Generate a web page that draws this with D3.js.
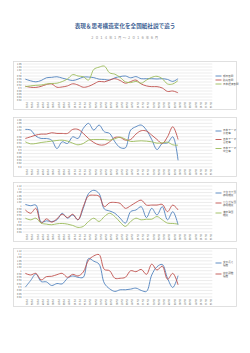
<!DOCTYPE html>
<html>
<head>
<meta charset="utf-8">
<script src="https://cdn.jsdelivr.net/npm/d3@7"></script>
<style>
  body { margin: 0; background: #fff; }
  svg { display: block; }
</style>
</head>
<body>
<svg id="chart"></svg>
<script>
// x categories (Jan 2014 - Dec 2016), data covers the first 30
const months = [
  "14/01","14/02","14/03","14/04","14/05","14/06","14/07","14/08","14/09","14/10","14/11","14/12",
  "15/01","15/02","15/03","15/04","15/05","15/06","15/07","15/08","15/09","15/10","15/11","15/12",
  "16/01","16/02","16/03","16/04","16/05","16/06","16/07","16/08","16/09","16/10","16/11","16/12"
];

// panel 1
const asahi   = [0.959,0.948,0.941,0.950,0.968,0.971,0.975,0.966,0.957,0.950,0.959,0.973,0.973,0.969,0.959,0.957,0.953,0.968,0.976,0.980,0.968,0.976,0.962,0.962,0.962,0.960,0.962,0.957,0.944,0.962];
const yomiuri = [0.912,0.905,0.904,0.911,0.923,0.927,0.905,0.907,0.914,0.928,0.920,0.905,0.911,0.927,0.944,0.941,0.953,0.962,0.950,0.932,0.943,0.953,0.927,0.914,0.909,0.909,0.900,0.877,0.880,0.868];
const nikkei  = [0.909,0.914,0.918,0.920,0.927,0.930,0.932,0.943,0.960,0.989,0.980,0.975,0.953,1.024,1.039,1.046,1.001,0.992,0.971,0.941,0.936,0.944,0.932,0.953,0.971,0.978,0.962,0.927,0.927,0.950];

// panel 2
const themePos = [1.024,1.020,0.984,0.970,0.970,0.960,0.910,0.950,0.940,0.980,0.970,1.030,1.060,1.020,1.050,1.010,1.000,0.950,0.916,0.914,1.020,1.040,1.050,1.020,0.964,0.904,0.940,0.944,0.980,0.840];
const themeNeg = [0.970,0.980,0.990,0.996,0.996,1.004,1.000,1.000,1.000,1.024,1.024,1.000,0.970,0.946,0.932,0.932,0.950,0.976,0.976,0.960,0.964,0.996,1.016,1.014,0.990,0.964,0.940,0.980,1.040,0.964];
const themeNeu = [0.950,0.938,0.940,0.946,0.950,0.954,0.958,0.960,0.954,0.942,0.932,0.940,0.960,0.964,0.964,0.964,0.960,0.968,0.978,0.966,0.952,0.954,0.956,0.954,0.950,0.942,0.944,0.948,0.932,0.930];

// panel 3
const kataFreq  = [1.008,1.000,1.004,0.900,0.908,0.904,0.914,0.954,0.924,0.944,0.914,0.984,1.074,1.094,1.074,0.980,0.968,0.954,0.924,0.894,0.964,0.974,0.994,0.928,0.984,0.944,0.994,0.914,0.964,0.884];
const hiraFreq  = [0.974,0.954,0.984,0.894,0.920,0.900,0.920,0.948,0.928,0.948,0.914,0.994,1.060,1.064,1.058,0.994,1.018,1.020,1.014,0.984,1.000,1.020,1.034,1.004,1.004,1.004,1.008,0.964,1.004,0.974];
const kanjiFreq = [0.924,0.914,0.924,0.894,0.888,0.884,0.890,0.892,0.888,0.880,0.868,0.874,0.904,0.924,0.904,0.934,0.954,0.934,0.900,0.874,0.904,0.924,0.914,0.918,0.918,0.934,0.914,0.894,0.892,0.888];

// panel 4
const sentLen  = [0.900,0.940,0.980,0.934,0.932,0.910,0.922,0.920,0.954,0.968,0.960,0.960,1.074,1.058,1.040,0.924,0.890,0.874,0.884,0.884,0.888,0.894,0.880,0.874,0.974,1.024,1.038,0.954,0.898,0.970];
const conjRate = [0.984,0.974,0.984,0.944,0.964,0.966,0.976,0.984,0.960,0.978,0.968,0.992,1.064,1.090,1.098,1.008,1.000,0.954,0.954,0.960,1.000,0.994,1.008,0.978,1.040,1.004,1.028,0.948,0.984,0.914];

const BLUE = "#4f81bd", RED = "#c0504d", GREEN = "#9bbb59";

const panels = [
  { box: [61, 109], plot: [64, 100], domain: [0.82, 1.06], legendY: [76, 80, 84],
    series: [
      { name: ["朝日新聞"], values: asahi, color: BLUE },
      { name: ["読売新聞"], values: yomiuri, color: RED },
      { name: ["日本経済新聞"], values: nikkei, color: GREEN }
    ] },
  { box: [117, 176], plot: [120, 167], domain: [0.80, 1.08], legendY: [131, 139.5, 148.5],
    series: [
      { name: ["日本テーマ", "肯定率"], values: themePos, color: BLUE },
      { name: ["日本テーマ", "否定率"], values: themeNeg, color: RED },
      { name: ["日本テーマ", "中立率"], values: themeNeu, color: GREEN }
    ] },
  { box: [182, 241], plot: [186, 232], domain: [0.84, 1.12], legendY: [193, 203, 213],
    series: [
      { name: ["カタカナ語", "使用頻度"], values: kataFreq, color: BLUE },
      { name: ["ひらがな語", "使用頻度"], values: hiraFreq, color: RED },
      { name: ["漢字熟語", "頻度"], values: kanjiFreq, color: GREEN }
    ] },
  { box: [248, 306], plot: [251, 297], domain: [0.84, 1.12], legendY: [263, 274],
    series: [
      { name: ["文の長さ", "指数"], values: sentLen, color: BLUE },
      { name: ["接続詞数", "指数"], values: conjRate, color: RED }
    ] }
];

const width = 250, height = 353;
const svg = d3.select("#chart")
  .attr("width", width)
  .attr("height", height)
  .attr("viewBox", `0 0 ${width} ${height}`);

const font = "'Noto Sans CJK JP', 'Noto Sans', sans-serif";

// Title
svg.append("text")
  .attr("x", 125)
  .attr("y", 28)
  .attr("text-anchor", "middle")
  .attr("font-family", font)
  .attr("font-weight", "bold")
  .attr("font-size", 5.6)
  .attr("fill", "#3d5f94")
  .text("表現＆思考構造変化を全国紙社説で追う");

svg.append("text")
  .attr("x", 125)
  .attr("y", 38.5)
  .attr("text-anchor", "middle")
  .attr("font-family", font)
  .attr("font-size", 3.4)
  .attr("letter-spacing", 1.2)
  .attr("fill", "#8c8c8c")
  .text("２０１４年１月～２０１６年６月");

const x = d3.scalePoint()
  .domain(months)
  .range([22.7, 212.3])
  .padding(0.5);

panels.forEach(p => {
  const g = svg.append("g");

  g.append("rect")
    .attr("x", 13.5)
    .attr("y", p.box[0] + 0.5)
    .attr("width", 223)
    .attr("height", p.box[1] - p.box[0])
    .attr("fill", "#fff")
    .attr("stroke", "#d9d9d9")
    .attr("stroke-width", 0.8);

  const y = d3.scaleLinear().domain(p.domain).range([p.plot[1], p.plot[0]]);
  const ticks = d3.range(p.domain[0], p.domain[1] + 0.001, 0.02);

  // gridlines
  g.selectAll("line.grid")
    .data(ticks)
    .join("line")
    .attr("class", "grid")
    .attr("x1", 22.7)
    .attr("x2", 212.3)
    .attr("y1", d => y(d))
    .attr("y2", d => y(d))
    .attr("stroke", "#d9d9d9")
    .attr("stroke-width", 0.5);

  // y labels
  g.selectAll("text.ytick")
    .data(ticks)
    .join("text")
    .attr("class", "ytick")
    .attr("x", 21.5)
    .attr("y", d => y(d) + 0.8)
    .attr("text-anchor", "end")
    .attr("font-family", font)
    .attr("font-size", 2.3)
    .attr("fill", "#595959")
    .text(d => String(+d.toFixed(2)));

  // x labels, rotated
  g.selectAll("text.xtick")
    .data(months)
    .join("text")
    .attr("class", "xtick")
    .attr("transform", d => `translate(${x(d) + 0.8},${p.plot[1] + 2}) rotate(90)`)
    .attr("font-family", font)
    .attr("font-size", 2.3)
    .attr("fill", "#595959")
    .text(d => d);

  const line = d3.line()
    .x((d, i) => x(months[i]))
    .y(d => y(d))
    .curve(d3.curveCatmullRom.alpha(0.5));

  p.series.forEach((s, k) => {
    g.append("path")
      .datum(s.values)
      .attr("d", line)
      .attr("fill", "none")
      .attr("stroke", s.color)
      .attr("stroke-width", 0.9);

    const ly = p.legendY[k];
    g.append("line")
      .attr("x1", 215.5)
      .attr("x2", 221.5)
      .attr("y1", ly)
      .attr("y2", ly)
      .attr("stroke", s.color)
      .attr("stroke-width", 0.9);

    const t = g.append("text")
      .attr("x", 223)
      .attr("y", ly + (s.name.length > 1 ? 0 : 1))
      .attr("font-family", font)
      .attr("font-size", 2.6)
      .attr("fill", "#595959");
    s.name.forEach((n, j) => {
      t.append("tspan")
        .attr("x", 223)
        .attr("dy", j === 0 ? 0 : 3.2)
        .text(n);
    });
  });
});
</script>
</body>
</html>
